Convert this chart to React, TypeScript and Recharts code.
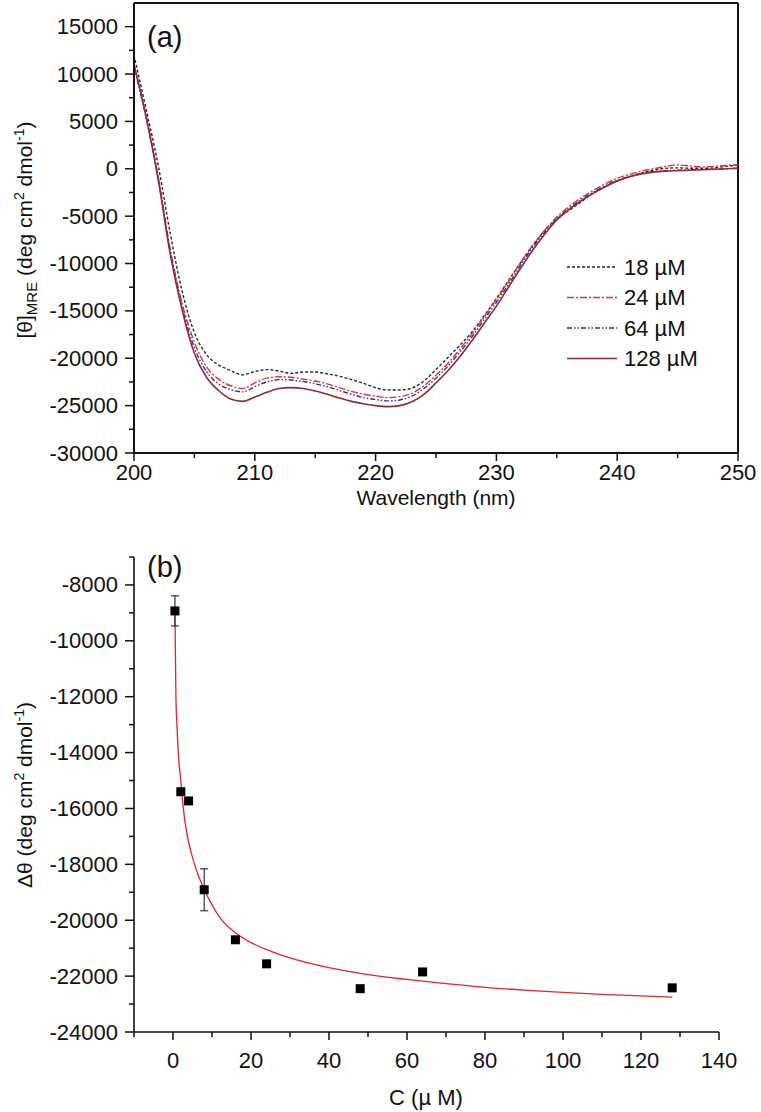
import React from "react";
import { LineChart, ComposedChart, Line, Scatter, ErrorBar, XAxis, YAxis, ReferenceLine } from "recharts";

const FONT = '"Liberation Sans", Arial, Helvetica, sans-serif';
const INK = "#111";

// panel (a): CD spectra, wavelength in nm
const wavelengths = [
  200, 201, 202, 203, 204, 205, 206, 207, 208, 209, 210, 211, 212, 213, 214, 215, 216,
  217, 218, 219, 220, 221, 222, 223, 224, 225, 226, 227, 228, 229, 230, 231, 232, 233,
  234, 235, 236, 237, 238, 239, 240, 241, 242, 243, 244, 245, 246, 247, 248, 249, 250,
];
const cd18 = [
  12000, 6300, 400, -6800, -13000, -17300, -19600, -20700, -21300, -21750,
  -21400, -21200, -21350, -21600, -21450, -21450, -21650, -21900, -22250, -22650,
  -23100, -23350, -23350, -23150, -22400, -21200, -19900, -18600, -17200, -15500,
  -13700, -11800, -9900, -8100, -6500, -5300, -4400, -3500, -2600, -1900,
  -1300, -850, -450, -150, 50, 100, 50, 50, 100, 250, 400,
];
const cd24 = [
  11000, 5600, -800, -8500, -14300, -18300, -20900, -22200, -22900, -23200,
  -22600, -22100, -21950, -22000, -22200, -22400, -22700, -23100, -23500, -23800,
  -24000, -24150, -24050, -23700, -22900, -21800, -20500, -19000, -17400, -15600,
  -13800, -11900, -9900, -8100, -6500, -5100, -4000, -3100, -2300, -1600,
  -1000, -600, -250, 0, 250, 400, 300, 200, 250, 350, 450,
];
const cd64 = [
  10800, 5400, -1000, -8700, -14700, -18900, -21400, -22700, -23300, -23550,
  -23000, -22500, -22250, -22300, -22450, -22700, -23000, -23400, -23800, -24150,
  -24350, -24500, -24400, -24000, -23200, -22100, -20800, -19300, -17700, -15900,
  -14100, -12200, -10200, -8300, -6700, -5300, -4200, -3300, -2500, -1800,
  -1200, -800, -500, -300, -200, -150, -100, -80, -50, 0, 50,
];
const cd128 = [
  11000, 5500, -1100, -9000, -15000, -19500, -22000, -23400, -24300, -24550,
  -24100, -23600, -23200, -23100, -23200, -23450, -23800, -24200, -24550, -24800,
  -25000, -25100, -25000, -24600, -23800, -22600, -21300, -19800, -18100, -16300,
  -14500, -12500, -10500, -8600, -6900, -5400, -4300, -3400, -2600, -1900,
  -1300, -850, -550, -350, -250, -200, -150, -100, -50, 0, 50,
];

const wlMajor = [200, 210, 220, 230, 240, 250];
const wlMinor = [205, 215, 225, 235, 245];
const cdMajor = [-30000, -25000, -20000, -15000, -10000, -5000, 0, 5000, 10000, 15000];
const cdMinor = [-27500, -22500, -17500, -12500, -7500, -2500, 2500, 7500, 12500];

// panel (b): delta theta vs concentration
const concentrations = [0.5, 2, 4, 8, 16, 24, 48, 64, 128];
const deltaTheta = [-8930, -15400, -15730, -18910, -20700, -21560, -22450, -21850, -22420];
const deltaErr = [540, 0, 0, 750, 0, 0, 0, 0, 0];

const fitC = [0.5, 0.75, 1, 1.5, 2, 2.5, 3, 4, 5, 6, 8, 10, 12, 16, 20, 24, 30, 40, 50, 60, 70, 80, 90, 100, 110, 120, 128];
const fitTheta = [
  -9000, -12000, -13000, -14300, -15000, -15800, -16400, -17200, -17750, -18200,
  -18900, -19450, -19900, -20450, -20800, -21050, -21350, -21700, -21950, -22120,
  -22270, -22400, -22500, -22580, -22650, -22710, -22750,
];

const cMajor = [0, 20, 40, 60, 80, 100, 120, 140];
const cMinor = [-10, 10, 30, 50, 70, 90, 110, 130];
const dtMajor = [-24000, -22000, -20000, -18000, -16000, -14000, -12000, -10000, -8000];
const dtMinor = [-23000, -21000, -19000, -17000, -15000, -13000, -11000, -9000, -7000];

const series = [
  { key: "c18", label: "18 µM", color: "#2a2a2a", dash: "3 2", width: 1.4 },
  { key: "c24", label: "24 µM", color: "#e3342c", dash: "7 2 2 2", width: 1.4 },
  { key: "c64", label: "64 µM", color: "#2a2ab8", dash: "5 2 1.5 2 1.5 2", width: 1.4 },
  { key: "c128", label: "128 µM", color: "#8e2a3a", dash: undefined, width: 1.6 },
];

const spectra = wavelengths.map((wl, i) => ({
  wl,
  c18: cd18[i],
  c24: cd24[i],
  c64: cd64[i],
  c128: cd128[i],
}));

const points = concentrations.map((c, i) => ({ c, dt: deltaTheta[i], err: deltaErr[i] }));
const fit = fitC.map((c, i) => ({ c, fit: fitTheta[i] }));

const makeXTick = (majors: number[], labelDy: number) => (props: any) => {
  const { x, y, payload } = props;
  const major = majors.includes(payload.value);
  return (
    <g>
      <line x1={x} x2={x} y1={y} y2={y + (major ? 8 : 5)} stroke={INK} strokeWidth={1.5} />
      {major && (
        <text x={x} y={y + labelDy} textAnchor="middle" dominantBaseline="central" fontSize={22} fill={INK} fontFamily={FONT}>
          {payload.value}
        </text>
      )}
    </g>
  );
};

const makeYTick = (majors: number[]) => (props: any) => {
  const { x, y, payload } = props;
  const major = majors.includes(payload.value);
  return (
    <g>
      <line x1={x} x2={x - (major ? 9 : 5)} y1={y} y2={y} stroke={INK} strokeWidth={1.5} />
      {major && (
        <text x={x - 16} y={y} textAnchor="end" dominantBaseline="central" fontSize={22} fill={INK} fontFamily={FONT}>
          {payload.value}
        </text>
      )}
    </g>
  );
};

const Square = (props: any) => {
  const { cx, cy } = props;
  return <rect x={cx - 4.5} y={cy - 4.5} width={9} height={9} fill="#000" />;
};

export default function App() {
  const axisLine = { stroke: INK, strokeWidth: 2 };
  return (
    <div style={{ position: "absolute", left: 0, top: 0, width: 761, height: 1112, overflow: "hidden", background: "#fff" }}>
      <div style={{ position: "absolute", left: 0, top: 0 }}>
        <LineChart width={761} height={500} data={spectra} margin={{ top: 3, right: 23, bottom: 0, left: 0 }}>
          <XAxis
            type="number"
            dataKey="wl"
            domain={[200, 250]}
            ticks={[...wlMajor, ...wlMinor]}
            interval={0}
            height={47}
            tickSize={0}
            tickMargin={0}
            tickLine={false}
            axisLine={axisLine}
            tick={makeXTick(wlMajor, 19)}
          />
          <YAxis
            type="number"
            domain={[-30000, 17500]}
            ticks={[...cdMajor, ...cdMinor]}
            interval={0}
            width={134}
            tickSize={0}
            tickMargin={0}
            tickLine={false}
            axisLine={axisLine}
            tick={makeYTick(cdMajor)}
            allowDataOverflow
          />
          <ReferenceLine y={17500} stroke={INK} strokeWidth={2} />
          <ReferenceLine x={250} stroke={INK} strokeWidth={2} />
          {series.map((s) => (
            <Line
              key={s.key}
              type="monotone"
              dataKey={s.key}
              stroke={s.color}
              strokeWidth={s.width}
              strokeDasharray={s.dash}
              dot={false}
              isAnimationActive={false}
            />
          ))}
        </LineChart>
      </div>

      <div style={{ position: "absolute", left: 0, top: 500 }}>
        <ComposedChart width={761} height={612} margin={{ top: 57, right: 42, bottom: 0, left: 0 }}>
          <XAxis
            type="number"
            dataKey="c"
            domain={[-10, 140]}
            ticks={[...cMajor, ...cMinor]}
            interval={0}
            height={80}
            tickSize={0}
            tickMargin={0}
            tickLine={false}
            axisLine={{ stroke: INK, strokeWidth: 1.6 }}
            tick={makeXTick(cMajor, 28)}
          />
          <YAxis
            type="number"
            domain={[-24000, -7000]}
            ticks={[...dtMajor, ...dtMinor]}
            interval={0}
            width={134}
            tickSize={0}
            tickMargin={0}
            tickLine={false}
            axisLine={{ stroke: INK, strokeWidth: 1.6 }}
            tick={makeYTick(dtMajor)}
          />
          <Line data={fit} type="monotone" dataKey="fit" stroke="#e0262b" strokeWidth={1.3} dot={false} isAnimationActive={false} />
          <Scatter data={points} dataKey="dt" shape={<Square />} isAnimationActive={false}>
            <ErrorBar dataKey="err" direction="y" width={4} stroke="#333" strokeWidth={1.2} />
          </Scatter>
        </ComposedChart>
      </div>

      <svg width={761} height={1112} style={{ position: "absolute", left: 0, top: 0, pointerEvents: "none" }} fontFamily={FONT} fill={INK}>
        {/* legend of panel (a) */}
        {series.map((s, i) => {
          const y = 267 + i * 30.5;
          return (
            <g key={s.key}>
              <line x1={567} x2={617} y1={y} y2={y} stroke={s.color} strokeWidth={s.width} strokeDasharray={s.dash} />
              <text x={624} y={y} dominantBaseline="central" fontSize={22}>
                {s.label}
              </text>
            </g>
          );
        })}
        <text x={147} y={37} fontSize={29} dominantBaseline="central">(a)</text>
        <text x={147} y={567} fontSize={29} dominantBaseline="central">(b)</text>
        <text x={436} y={497} fontSize={21} textAnchor="middle" dominantBaseline="central">Wavelength (nm)</text>
        <text x={426} y={1097} fontSize={22} textAnchor="middle" dominantBaseline="central">C (µ M)</text>
        <text x={32} y={230} fontSize={21} textAnchor="middle" transform="rotate(-90, 32, 230)">
          [θ]<tspan fontSize={15} dy={5}>MRE</tspan>
          <tspan dy={-5}> (deg cm</tspan>
          <tspan fontSize={14} dy={-8}>2</tspan>
          <tspan dy={8}> dmol</tspan>
          <tspan fontSize={14} dy={-8}>-1</tspan>
          <tspan dy={8}>)</tspan>
        </text>
        <text x={32} y={795} fontSize={21} textAnchor="middle" transform="rotate(-90, 32, 795)">
          Δθ (deg cm
          <tspan fontSize={14} dy={-8}>2</tspan>
          <tspan dy={8}> dmol</tspan>
          <tspan fontSize={14} dy={-8}>-1</tspan>
          <tspan dy={8}>)</tspan>
        </text>
      </svg>
    </div>
  );
}
